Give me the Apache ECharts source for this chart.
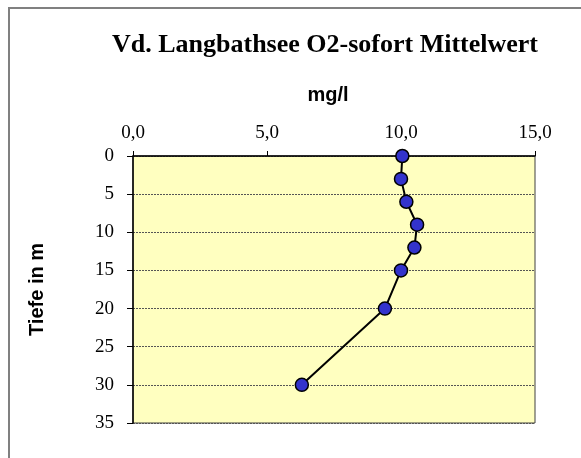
<!DOCTYPE html>
<html><head><meta charset="utf-8">
<script src="https://cdn.jsdelivr.net/npm/echarts@6/dist/echarts.min.js"></script>
<style>html,body{margin:0;padding:0;background:#fff}#c{width:581px;height:458px}</style>
</head><body><div id="c"></div>
<script>
const depths = [0, 3, 6, 9, 12, 15, 20, 30];
const o2Values = [10.05, 10.0, 10.2, 10.6, 10.5, 10.0, 9.4, 6.3];
const titleText = 'Vd. Langbathsee O2-sofort Mittelwert';
const xName = 'mg/l';
const yName = 'Tiefe in m';

const chart = echarts.init(document.getElementById('c'), null, {renderer: 'canvas'});
chart.setOption({
  animation: false,
  backgroundColor: '#fff',
  graphic: [{
    type: 'rect', z: -1, silent: true,
    shape: {x: 9, y: 8, width: 700, height: 600},
    style: {fill: 'none', stroke: '#808080', lineWidth: 2}
  }],
  title: [{
    text: titleText, left: 320, top: 27, textAlign: 'center',
    textStyle: {fontFamily: 'Liberation Serif', fontWeight: 'bold', fontSize: 26, color: '#000'}
  }, {
    text: xName, left: 323, top: 80, textAlign: 'center',
    textStyle: {fontFamily: 'Liberation Sans', fontWeight: 'bold', fontSize: 20, color: '#000'}
  }],
  grid: {left: 133, right: 46, top: 156, bottom: 35, show: true,
    backgroundColor: '#FFFFC0', borderColor: '#404040', borderWidth: 1},
  xAxis: {
    type: 'value', position: 'top', min: 0, max: 15, interval: 5,
    axisLine: {show: true, lineStyle: {color: '#000', width: 1.5}},
    axisTick: {show: true, inside: false, length: 5, lineStyle: {color: '#000'}},
    axisLabel: {margin: 13, fontFamily: 'Liberation Serif', fontSize: 19, color: '#000',
      formatter: v => v.toFixed(1).replace('.', ',')},
    splitLine: {show: false}
  },
  yAxis: {
    type: 'value', inverse: true, min: 0, max: 35, interval: 5,
    name: yName, nameLocation: 'middle', nameGap: 86, nameRotate: 90,
    nameTextStyle: {fontFamily: 'Liberation Sans', fontWeight: 'bold', fontSize: 20, color: '#000'},
    axisLine: {show: true, lineStyle: {color: '#000', width: 1.5}},
    axisTick: {show: true, inside: false, length: 6, lineStyle: {color: '#000'}},
    axisLabel: {margin: 19, fontFamily: 'Liberation Serif', fontSize: 19, color: '#000'},
    splitLine: {show: true, lineStyle: {color: '#555', type: [2, 1], width: 1}}
  },
  series: [{
    type: 'line',
    data: depths.map((d, i) => [o2Values[i], d]),
    symbol: 'circle', symbolSize: 13,
    lineStyle: {color: '#000', width: 2},
    itemStyle: {color: '#3333CC', borderColor: '#000', borderWidth: 1.5}
  }]
});
</script></body></html>
